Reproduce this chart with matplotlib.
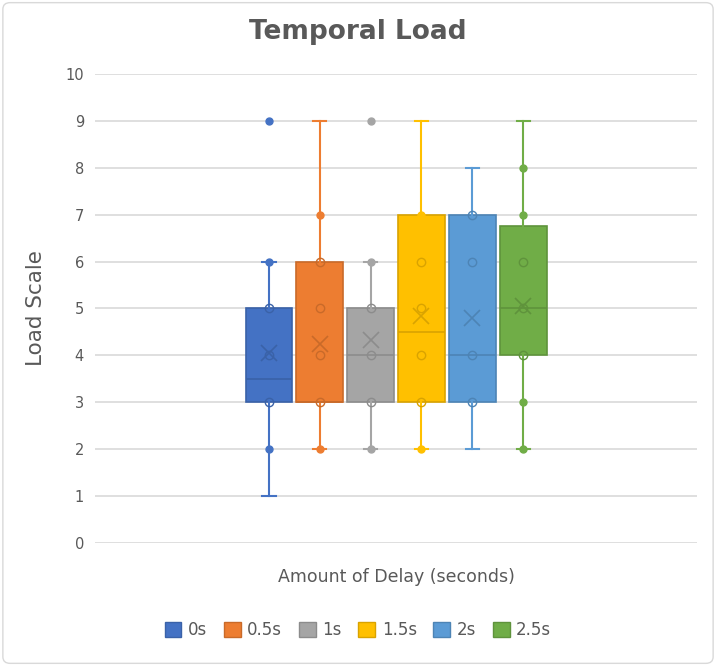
import matplotlib.pyplot as plt
from matplotlib.patches import FancyBboxPatch, Patch

labels = ["0s", "0.5s", "1s", "1.5s", "2s", "2.5s"]
colors = ["#4472C4", "#ED7D31", "#A5A5A5", "#FFC000", "#5B9BD5", "#70AD47"]
edges = ["#3A62A8", "#C96A29", "#8C8C8C", "#D9A300", "#4D84B5", "#5F933C"]

q1 = [3, 3, 3, 3, 3, 4]
med = [3.5, 3, 4, 4.5, 4, 5]
q3 = [5, 6, 5, 7, 7, 6.75]
whislo = [1, 2, 2, 2, 2, 2]
whishi = [6, 9, 6, 9, 8, 9]
means = [4.05, 4.25, 4.33, 4.85, 4.8, 5.05]
outliers = [[9], [], [9], [], [], []]
# points drawn as hollow circles (inside the box) and filled dots (on whiskers)
hollow = [[3, 4, 5], [3, 4, 5, 6], [3, 4, 5], [3, 4, 5, 6], [3, 4, 6, 7], [4, 5, 6]]
filled = [[2, 6], [2, 7], [2, 6], [2, 7], [], [2, 3, 7, 8]]

fig = plt.figure(figsize=(7.16, 6.66), dpi=100)
ax = fig.add_axes([0.1327, 0.1847, 0.8408, 0.7042])

pos = list(range(len(labels)))
stats = []
for i in pos:
    stats.append(dict(q1=q1[i], med=med[i], q3=q3[i], whislo=whislo[i],
                      whishi=whishi[i], mean=means[i], fliers=outliers[i]))

bp = ax.bxp(stats, positions=pos, widths=0.92, patch_artist=True,
            showfliers=False, capwidths=0.26, zorder=3)
for i in pos:
    bp["boxes"][i].set(facecolor=colors[i], edgecolor=edges[i], linewidth=1.2)
    bp["medians"][i].set(color=edges[i], linewidth=1.2)
    for w in bp["whiskers"][2 * i:2 * i + 2]:
        w.set(color=colors[i], linewidth=1.5)
    for c in bp["caps"][2 * i:2 * i + 2]:
        c.set(color=colors[i], linewidth=1.5)
    ax.plot([i] * len(hollow[i]), hollow[i], "o", ms=6, mfc="none",
            mec=edges[i], mew=1.0, zorder=4)
    if filled[i]:
        ax.plot([i] * len(filled[i]), filled[i], "o", ms=5, color=colors[i], zorder=4)
    if outliers[i]:
        ax.plot([i] * len(outliers[i]), outliers[i], "o", ms=5, color=colors[i], zorder=4)
    ax.plot(i, means[i], "x", ms=12, mew=1.2, color=edges[i], zorder=5)

ax.set_xlim(-3.42, 8.42)
ax.set_ylim(0, 10)
ax.set_yticks(range(0, 11))
ax.set_xticks([])
ax.yaxis.grid(True, color="#D9D9D9", linewidth=1.2, zorder=0)
ax.set_axisbelow(True)
for s in ax.spines.values():
    s.set_visible(False)
ax.tick_params(axis="y", length=0, labelsize=10.5, labelcolor="#595959", pad=8)

fig.suptitle("Temporal Load", x=0.5, y=0.952, va="center", fontsize=19,
             fontweight="bold", color="#595959")
ax.set_ylabel("Load Scale", fontsize=15.5, color="#595959", labelpad=14)
ax.set_xlabel("Amount of Delay (seconds)", fontsize=12.5, color="#595959", labelpad=18)

handles = [Patch(facecolor=colors[i], edgecolor=edges[i], label=labels[i]) for i in pos]
fig.legend(handles=handles, loc="center", bbox_to_anchor=(0.5, 0.054), ncol=6,
           frameon=False, fontsize=12, handlelength=1.0, handleheight=1.0,
           handletextpad=0.4, columnspacing=1.0, labelcolor="#595959")

fig.patches.append(FancyBboxPatch((0.004, 0.004), 0.992, 0.992,
                                  boxstyle="round,pad=0,rounding_size=0.01",
                                  transform=fig.transFigure, fill=False,
                                  edgecolor="#D9D9D9", linewidth=1.0))

fig.savefig("out.png", dpi=100)
